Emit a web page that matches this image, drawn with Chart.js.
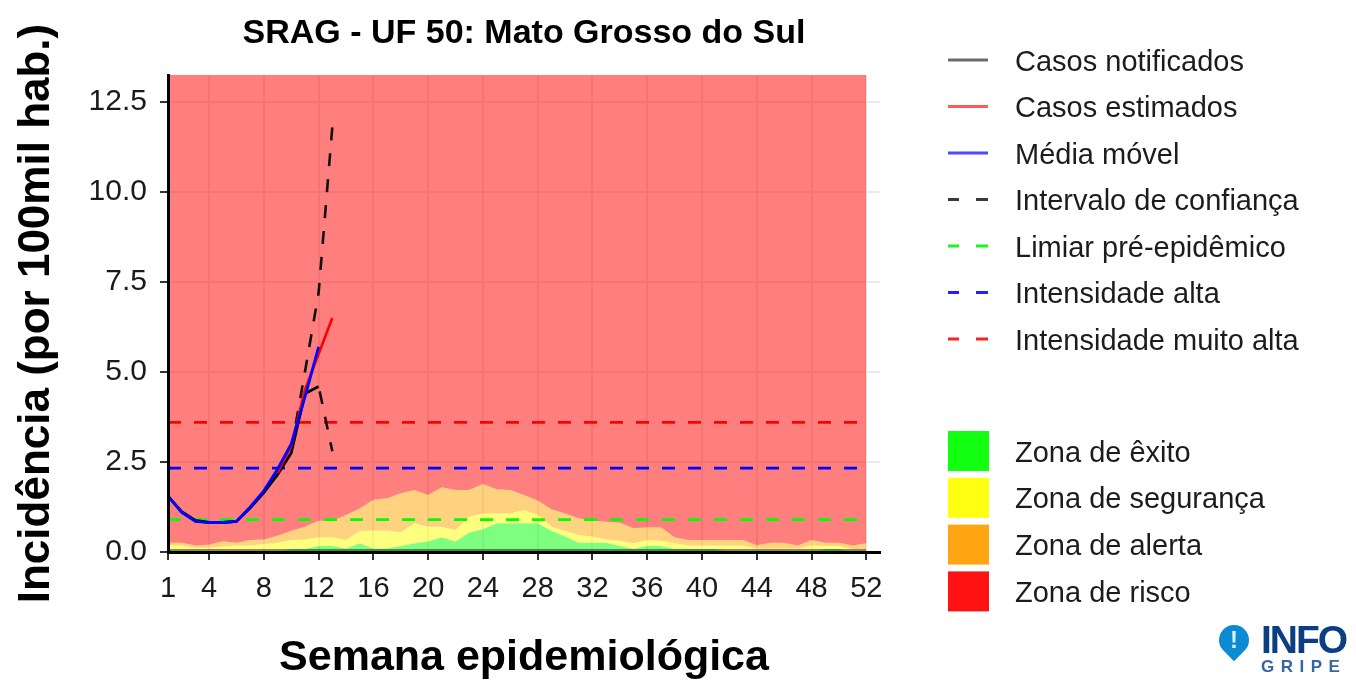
<!DOCTYPE html>
<html>
<head>
<meta charset="utf-8">
<script src="https://cdn.jsdelivr.net/npm/chart.js@4.4.1/dist/chart.umd.min.js"></script>
<style>
html,body{margin:0;padding:0;background:#fff;}
#wrap{position:relative;width:1356px;height:688px;overflow:hidden;}
#c{position:absolute;left:0;top:0;}
#logo{position:absolute;left:1210px;top:618px;width:146px;height:64px;font-family:"Liberation Sans",Arial,sans-serif;}
#pin{position:absolute;left:9px;top:7px;width:30px;height:30px;background:#0a8bd2;border-radius:50% 50% 0 50%;transform:rotate(45deg);}
#bang{position:absolute;left:16px;top:8px;width:16px;text-align:center;color:#d8efff;font-weight:bold;font-size:24px;line-height:28px;}
#info{position:absolute;left:51px;top:3px;color:#0b3f82;font-weight:bold;font-size:39px;line-height:38px;letter-spacing:-2px;}
#gripe{position:absolute;left:51px;top:40px;color:#3567a0;font-weight:bold;font-size:17px;line-height:17px;letter-spacing:6.5px;}
</style>
</head>
<body>
<div id="wrap">
<canvas id="c" width="1356" height="688"></canvas>
<div id="logo"><div id="pin"></div><div id="bang">!</div><div id="info">INFO</div><div id="gripe">GRIPE</div></div>
</div>
<script>
// ---------- data ----------
const weeks = [1,2,3,4,5,6,7,8,9,10,11,12,13,14,15,16,17,18,19,20,21,22,23,24,25,26,27,28,29,30,31,32,33,34,35,36,37,38,39,40,41,42,43,44,45,46,47,48,49,50,51,52];
const xTickWeeks = [1,4,8,12,16,20,24,28,32,36,40,44,48,52];
const yTickValues = [0,2.5,5,7.5,10,12.5];
const yMax = 13.25;

const casosNotificados = [1.55,1.12,0.88,0.82,0.82,0.85,1.22,1.65,2.15,2.75,4.4,4.6];
const casosEstimados   = [null,null,null,null,null,null,null,null,2.2,2.95,4.5,5.5,6.5];
const mediaMovel       = [1.55,1.1,0.85,0.82,0.82,0.85,1.25,1.7,2.3,3.0,4.3,5.7];
const icInferior       = [null,null,null,null,null,null,null,null,null,2.85,4.4,4.6,2.8];
const icSuperior       = [null,null,null,null,null,null,null,null,null,2.85,5.0,7.2,11.8];

const limiarPreEpidemico = 0.9;
const intensidadeAlta = 2.33;
const intensidadeMuitoAlta = 3.6;

// cumulative upper limits of each zone
const zonaExito = [0,0,0,0,0,0,0,0,0,
  0.08,0.08,0.17,0.17,0.1,0.24,0.1,0.1,0.17,
  0.24,0.29,0.41,0.29,0.54,0.63,0.8,0.8,0.8,
  0.8,0.59,0.43,0.26,0.26,0.26,0.17,0.09,
  0.17,0.17,0.08,0.08,0.08,0.08,0,0,0,
  0,0,0,0,0.08,0.08,0,0];
const zonaSeguranca = [0.18,0.18,0.12,0.12,0.15,0.18,0.18,0.22,0.26,
  0.33,0.35,0.41,0.41,0.33,0.58,0.6,0.6,0.55,
  0.8,0.7,0.7,0.61,0.98,1.07,1.07,1.07,1.17,
  1.03,0.7,0.59,0.47,0.43,0.35,0.31,0.24,
  0.33,0.31,0.24,0.18,0.18,0.18,0.18,0.18,0.1,
  0.1,0.1,0.1,0.18,0.17,0.17,0.08,0.08];
const zonaAlerta = [0.26,0.26,0.18,0.2,0.3,0.26,0.33,0.35,0.45,
  0.59,0.7,0.87,0.87,1.03,1.21,1.45,1.49,1.63,
  1.72,1.58,1.8,1.72,1.72,1.89,1.74,1.72,1.58,
  1.43,1.19,1.07,0.94,0.87,0.84,0.81,0.66,
  0.69,0.69,0.41,0.33,0.33,0.33,0.33,0.33,0.19,
  0.26,0.26,0.18,0.33,0.26,0.26,0.18,0.24];
const baseStripTop = 0.08;

const chartTitle = 'SRAG - UF 50: Mato Grosso do Sul';
const xTitle = 'Semana epidemiológica';
const yTitle = 'Incidência (por 100mil hab.)';

const legendLines = [
  {label:'Casos notificados', color:'#6a6a6a', dashed:false},
  {label:'Casos estimados', color:'#ff5a5a', dashed:false},
  {label:'Média móvel', color:'#4a4aff', dashed:false},
  {label:'Intervalo de confiança', color:'#3a3a3a', dashed:true},
  {label:'Limiar pré-epidêmico', color:'#22f022', dashed:true},
  {label:'Intensidade alta', color:'#2020ff', dashed:true},
  {label:'Intensidade muito alta', color:'#ff2020', dashed:true}
];
const legendZones = [
  {label:'Zona de êxito', color:'#12ff12'},
  {label:'Zona de segurança', color:'#ffff12'},
  {label:'Zona de alerta', color:'#ffa512'},
  {label:'Zona de risco', color:'#ff1212'}
];

// ---------- helpers ----------
const FONT = '"Liberation Sans", Arial, sans-serif';
const toXY = arr => arr.map((v,i)=>({x:weeks[i], y:v}));
const hline = v => [{x:weeks[0], y:v},{x:weeks[weeks.length-1], y:v}];
const lineDs = (data, color, order, dash, width) => ({
  data, borderColor: color, backgroundColor: color, borderWidth: width || 2.5,
  borderDash: dash || [], pointRadius: 0, fill: false, tension: 0, spanGaps: false, order
});
const zoneDs = (data, color, fill, order) => ({
  data, borderWidth: 0, borderColor: 'rgba(0,0,0,0)', backgroundColor: color,
  pointRadius: 0, fill, tension: 0, order
});

const datasets = [
  lineDs(toXY(mediaMovel), '#0000ff', 1, null, 2.8),                // 0
  lineDs(toXY(casosEstimados), '#ff0000', 2, null, 2.6),            // 1
  lineDs(toXY(icSuperior), '#111111', 3, [13,13], 2.6),             // 2
  lineDs(toXY(icInferior), '#111111', 4, [13,13], 2.6),             // 3
  lineDs(toXY(casosNotificados), '#000000', 5, null, 2.8),          // 4
  lineDs(hline(intensidadeMuitoAlta), '#ff0000', 6, [13,13], 2.6),  // 5
  lineDs(hline(intensidadeAlta), '#0000ff', 7, [13,13], 2.6),       // 6
  lineDs(hline(limiarPreEpidemico), '#00ff00', 8, [13,13], 2.6),    // 7
  zoneDs(toXY(weeks.map(()=>baseStripTop)), 'rgba(0,0,0,0.45)', 'origin', 9), // 8
  zoneDs(toXY(zonaExito), 'rgba(0,255,0,0.5)', 'origin', 13),       // 9
  zoneDs(toXY(zonaSeguranca), 'rgba(255,255,0,0.5)', '-1', 12),     // 10
  zoneDs(toXY(zonaAlerta), 'rgba(255,165,0,0.5)', '-1', 11),        // 11
  zoneDs(toXY(weeks.map(()=>yMax)), 'rgba(255,0,0,0.5)', '-1', 10)  // 12
];

const decorPlugin = {
  id: 'decor',
  afterDraw(chart) {
    const {ctx, chartArea} = chart;
    ctx.save();
    // title
    ctx.font = 'bold 34px ' + FONT;
    ctx.fillStyle = '#000';
    ctx.textAlign = 'center';
    ctx.textBaseline = 'alphabetic';
    ctx.fillText(chartTitle, (chartArea.left + chartArea.right) / 2, 43);
    // legend
    ctx.textAlign = 'left';
    ctx.font = '29px ' + FONT;
    legendLines.forEach((it, i) => {
      const y = 60 + i * 46.5;
      ctx.strokeStyle = it.color;
      ctx.lineWidth = 3;
      ctx.beginPath();
      if (it.dashed) {
        ctx.moveTo(948, y); ctx.lineTo(959, y);
        ctx.moveTo(976, y); ctx.lineTo(988, y);
      } else {
        ctx.moveTo(948, y); ctx.lineTo(988, y);
      }
      ctx.stroke();
      ctx.fillStyle = '#1c1c1c';
      ctx.fillText(it.label, 1015, y + 10.5);
    });
    legendZones.forEach((it, i) => {
      const y = 431 + i * 46.8;
      ctx.fillStyle = it.color;
      ctx.fillRect(948, y, 41, 40);
      ctx.fillStyle = '#1c1c1c';
      ctx.fillText(it.label, 1015, y + 30.5);
    });
    ctx.restore();
  }
};

new Chart(document.getElementById('c'), {
  type: 'line',
  data: { datasets },
  options: {
    responsive: false,
    animation: false,
    events: [],
    layout: { padding: { top: 75, right: 476, left: 0, bottom: 0 } },
    plugins: { legend: { display: false }, tooltip: { enabled: false }, title: { display: false } },
    scales: {
      x: {
        type: 'linear', min: 1, max: 53,
        afterBuildTicks: s => { s.ticks = xTickWeeks.map(v => ({value: v})); },
        afterFit: s => { s.height = 136; s.paddingLeft = 0; s.paddingRight = 0; },
        grid: { color: '#ebebeb', lineWidth: 2, tickColor: '#333', tickWidth: 2, tickLength: 8 },
        border: { color: '#000', width: 3, z: 1 },
        ticks: { font: { family: FONT, size: 29 }, color: '#1a1a1a', padding: 12, maxRotation: 0, autoSkip: false },
        title: { display: true, text: xTitle, color: '#000', font: { family: FONT, size: 43, weight: 'bold' }, padding: { top: 0, bottom: 4 } }
      },
      y: {
        type: 'linear', min: 0, max: yMax,
        afterBuildTicks: s => { s.ticks = yTickValues.map(v => ({value: v})); },
        afterFit: s => { s.width = 168; },
        grid: { color: '#ebebeb', lineWidth: 2, tickColor: '#333', tickWidth: 2, tickLength: 8 },
        border: { color: '#000', width: 3, z: 1 },
        ticks: { font: { family: FONT, size: 30 }, color: '#1a1a1a', padding: 13, callback: v => Number(v).toFixed(1) },
        title: { display: true, text: yTitle, color: '#000', font: { family: FONT, size: 44, weight: 'bold' }, padding: { top: 10, bottom: 0 } }
      }
    }
  },
  plugins: [decorPlugin]
});
</script>
</body>
</html>
